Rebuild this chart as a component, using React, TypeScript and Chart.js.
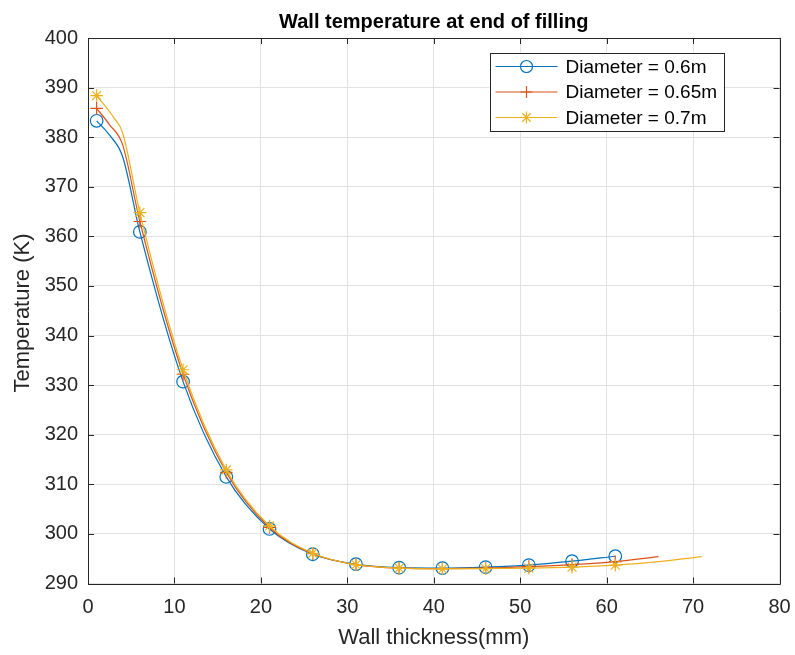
import React, { useEffect, useRef } from 'react';
import { Chart, registerables } from 'chart.js';

Chart.register(...registerables);

// ---------- data ----------
const TITLE = 'Wall temperature at end of filling';
const X_LABEL = 'Wall thickness(mm)';
const Y_LABEL = 'Temperature (K)';
const X_TICKS = [0, 10, 20, 30, 40, 50, 60, 70, 80];
const Y_TICKS = [290, 300, 310, 320, 330, 340, 350, 360, 370, 380, 390, 400];
const MARKER_X = [1, 6, 11, 16, 21, 26, 31, 36, 41, 46, 51, 56, 61];
const SERIES_NAMES = ['Diameter = 0.6m', 'Diameter = 0.65m', 'Diameter = 0.7m'];

const D060_X = [1, 2.5, 4, 6, 11, 16, 21, 26, 31, 36, 41, 46, 51, 56, 61];
const D060_Y = [383.3, 380.4, 376.1, 360.9, 330.7, 311.5, 301.0, 295.9, 293.9, 293.2, 293.1, 293.3, 293.7, 294.5, 295.5];

const D065_X = [1, 2.5, 4, 6, 11, 16, 21, 26, 31, 36, 41, 46, 51, 56, 61, 66];
const D065_Y = [385.8, 382.5, 378.5, 363.0, 332.2, 312.4, 301.3, 296.0, 293.8, 293.1, 293.0, 293.1, 293.4, 293.8, 294.4, 295.4];

const D070_X = [1, 3, 4, 6, 11, 16, 21, 26, 31, 36, 41, 46, 51, 56, 61, 66, 71];
const D070_Y = [388.4, 383.9, 380.9, 364.8, 333.1, 312.9, 301.6, 296.1, 293.8, 293.1, 292.95, 293.0, 293.1, 293.3, 293.7, 294.4, 295.4];

// ---------- styles ----------
const COLORS = ['#0072BD', '#D95319', '#EDB120'];
const MARKERS = ['circle', 'cross', 'star'];
const FONT = "'Liberation Sans', Arial, Helvetica, sans-serif";
const AXIS_COLOR = '#262626';
const GRID_COLOR = '#e2e2e2';
const W = 795;
const H = 655;

function drawMarker(ctx: CanvasRenderingContext2D, style: string, x: number, y: number, r: number) {
  ctx.beginPath();
  if (style === 'circle') {
    ctx.arc(x, y, r, 0, Math.PI * 2);
  } else if (style === 'cross') {
    ctx.moveTo(x - r, y); ctx.lineTo(x + r, y);
    ctx.moveTo(x, y - r); ctx.lineTo(x, y + r);
  } else {
    ctx.moveTo(x - r, y); ctx.lineTo(x + r, y);
    ctx.moveTo(x, y - r); ctx.lineTo(x, y + r);
    const d = r * Math.SQRT1_2;
    ctx.moveTo(x - d, y - d); ctx.lineTo(x + d, y + d);
    ctx.moveTo(x - d, y + d); ctx.lineTo(x + d, y - d);
  }
  ctx.stroke();
}

const framePlugin = {
  id: 'matlabFrame',
  beforeDraw(chart: any) {
    const ctx = chart.ctx as CanvasRenderingContext2D;
    ctx.save();
    ctx.fillStyle = '#ffffff';
    ctx.fillRect(0, 0, chart.width, chart.height);
    ctx.restore();
  },
  afterDraw(chart: any) {
    const ctx = chart.ctx as CanvasRenderingContext2D;
    const { left, right, top, bottom } = chart.chartArea;
    const xs = chart.scales.x;
    const ys = chart.scales.y;
    ctx.save();
    // box
    ctx.strokeStyle = AXIS_COLOR;
    ctx.lineWidth = 1;
    ctx.beginPath();
    ctx.rect(Math.round(left) + 0.5, Math.round(top) + 0.5, Math.round(right - left), Math.round(bottom - top));
    ctx.stroke();
    // inward ticks
    const tl = 6;
    ctx.beginPath();
    X_TICKS.forEach((v) => {
      const px = Math.round(xs.getPixelForValue(v)) + 0.5;
      ctx.moveTo(px, bottom); ctx.lineTo(px, bottom - tl);
      ctx.moveTo(px, top); ctx.lineTo(px, top + tl);
    });
    Y_TICKS.forEach((v) => {
      const py = Math.round(ys.getPixelForValue(v)) + 0.5;
      ctx.moveTo(left, py); ctx.lineTo(left + tl, py);
      ctx.moveTo(right, py); ctx.lineTo(right - tl, py);
    });
    ctx.stroke();

    // title
    ctx.fillStyle = '#000000';
    ctx.font = `bold 20px ${FONT}`;
    ctx.textAlign = 'center';
    ctx.textBaseline = 'alphabetic';
    ctx.fillText(TITLE, (left + right) / 2, 27.5);

    // x axis label
    ctx.fillStyle = AXIS_COLOR;
    ctx.font = `22px ${FONT}`;
    ctx.fillText(X_LABEL, (left + right) / 2, 644);

    // y axis label
    ctx.save();
    ctx.translate(28.5, 313);
    ctx.rotate(-Math.PI / 2);
    ctx.font = `22px ${FONT}`;
    ctx.textAlign = 'center';
    ctx.fillText(Y_LABEL, 0, 0);
    ctx.restore();

    // legend
    const lx0 = right - 290;
    const ly0 = top + 14.5;
    const lw = 234;
    const lh = 78;
    ctx.fillStyle = '#ffffff';
    ctx.fillRect(lx0, ly0, lw, lh);
    ctx.strokeStyle = AXIS_COLOR;
    ctx.lineWidth = 1;
    ctx.strokeRect(Math.round(lx0) + 0.5, Math.round(ly0) + 0.5, lw, lh);
    const rows = [ly0 + 14, ly0 + 39.5, ly0 + 65];
    SERIES_NAMES.forEach((name, i) => {
      const y = rows[i];
      ctx.strokeStyle = COLORS[i];
      ctx.lineWidth = 1.2;
      ctx.beginPath();
      ctx.moveTo(lx0 + 6, y); ctx.lineTo(lx0 + 68, y);
      ctx.stroke();
      drawMarker(ctx, MARKERS[i], lx0 + 37, y, 6);
      ctx.fillStyle = '#000000';
      ctx.font = `19px ${FONT}`;
      ctx.textAlign = 'left';
      ctx.textBaseline = 'middle';
      ctx.fillText(name, lx0 + 76, y + 1);
    });
    ctx.restore();
  },
};

export default function App() {
  const canvasRef = useRef<HTMLCanvasElement | null>(null);

  useEffect(() => {
    document.body.style.margin = '0';
    const canvas = canvasRef.current;
    if (!canvas) return;
    const series = [
      { x: D060_X, y: D060_Y },
      { x: D065_X, y: D065_Y },
      { x: D070_X, y: D070_Y },
    ];
    const chart = new Chart(canvas, {
      type: 'line',
      data: {
        datasets: series.map((s, i) => ({
          label: SERIES_NAMES[i],
          data: s.x.map((x, j) => ({ x, y: s.y[j] })),
          borderColor: COLORS[i],
          backgroundColor: 'rgba(0,0,0,0)',
          borderWidth: 1.2,
          fill: false,
          cubicInterpolationMode: 'monotone',
          pointStyle: MARKERS[i],
          pointRadius: (c: any) => (c.raw && MARKER_X.includes(c.raw.x) ? 6.3 : 0),
          pointHoverRadius: 0,
          pointBorderColor: COLORS[i],
          pointBackgroundColor: 'rgba(0,0,0,0)',
          pointBorderWidth: 1.2,
          order: 2 - i,
          clip: false as any,
        })),
      },
      options: {
        responsive: false,
        animation: false,
        devicePixelRatio: 1,
        events: [],
        layout: { padding: { top: 38, right: 15.5, left: 0, bottom: 0 } },
        plugins: {
          legend: { display: false },
          title: { display: false },
          tooltip: { enabled: false },
        },
        scales: {
          x: {
            type: 'linear',
            min: 0,
            max: 80,
            afterBuildTicks: (s: any) => {
              s.ticks = X_TICKS.map((v) => ({ value: v }));
            },
            ticks: {
              font: { size: 20, family: FONT },
              color: AXIS_COLOR,
              padding: 12,
              maxRotation: 0,
              autoSkip: false,
            },
            grid: { color: GRID_COLOR, drawTicks: false, lineWidth: 1 },
            border: { display: false },
            afterFit: (s: any) => {
              s.height = H - 583.5;
              s.paddingRight = 0;
              s.paddingLeft = 0;
            },
          },
          y: {
            type: 'linear',
            min: 290,
            max: 400,
            afterBuildTicks: (s: any) => {
              s.ticks = Y_TICKS.map((v) => ({ value: v }));
            },
            ticks: {
              font: { size: 20, family: FONT },
              color: AXIS_COLOR,
              padding: 10,
              autoSkip: false,
            },
            grid: { color: GRID_COLOR, drawTicks: false, lineWidth: 1 },
            border: { display: false },
            afterFit: (s: any) => {
              s.width = 88;
              s.paddingTop = 0;
              s.paddingBottom = 0;
            },
          },
        },
      },
      plugins: [framePlugin],
    });
    return () => chart.destroy();
  }, []);

  return (
    <div style={{ width: W, height: H, position: 'relative' }}>
      <canvas ref={canvasRef} width={W} height={H} style={{ display: 'block' }} />
    </div>
  );
}
